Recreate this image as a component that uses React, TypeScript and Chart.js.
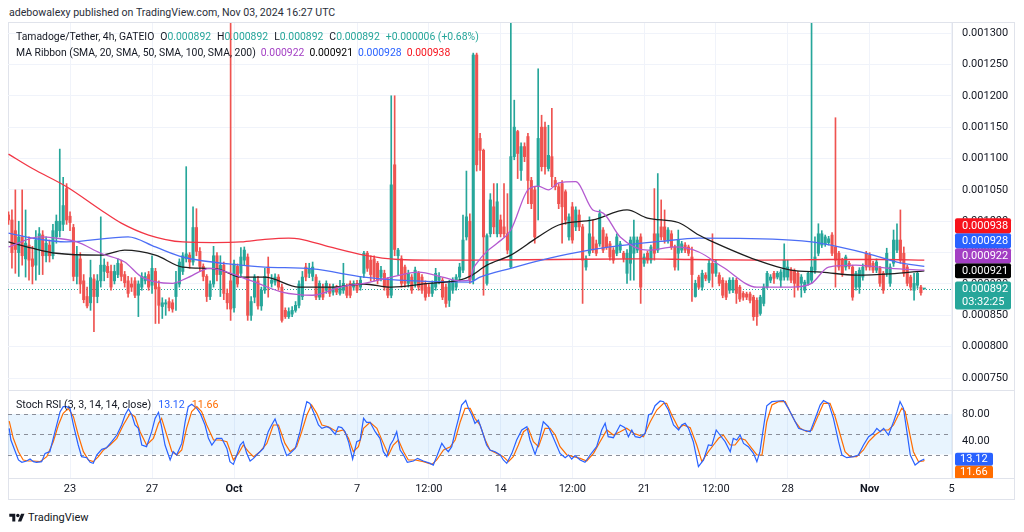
import React, { useEffect, useRef } from "react";
import { Chart, registerables } from "chart.js";

Chart.register(...registerables);

// Tamadoge/Tether, GATEIO, 4h bars from 20 Sep 2024 00:00 UTC.
// Prices are in millionths of USDT (892 = 0.000892).
const opens = [
  1010, 1002, 985, 950, 975, 940, 962, 940, 930, 955,
  978, 945, 962, 945, 975, 985, 995, 1052, 1008, 990,
  912, 940, 905, 880, 870, 908, 880, 905, 920, 928,
  920, 905, 915, 932, 915, 905, 900, 905, 882, 895,
  905, 915, 898, 920, 895, 864, 868, 872, 870, 880,
  900, 920, 940, 946, 935, 990, 952, 928, 912, 880,
  900, 945, 915, 930, 885, 905, 862, 928, 917, 938,
  943, 850, 879, 905, 865, 890, 927, 901, 903, 911,
  895, 858, 848, 852, 858, 866, 880, 927, 917, 912,
  911, 879, 895, 890, 895, 887, 895, 885, 890, 895,
  901, 895, 901, 895, 917, 949, 938, 940, 933, 911,
  917, 906, 882, 1090, 945, 940, 927, 901, 911, 901,
  917, 911, 901, 895, 885, 895, 906, 906, 895, 874,
  890, 895, 911, 922, 975, 1000, 906, 1265, 1132, 1113,
  901, 980, 1023, 980, 1002, 991, 980, 927, 1103, 1143,
  1081, 1119, 1135, 1065, 1050, 1055, 1150, 1150, 1084, 1103,
  1065, 1055, 1060, 1047, 975, 1023, 991, 1010, 991, 927,
  949, 975, 964, 964, 986, 975, 964, 954, 949, 954,
  949, 917, 933, 949, 954, 975, 933, 949, 938, 980,
  954, 991, 991, 970, 980, 959, 949, 954, 962, 959,
  943, 880, 911, 895, 914, 906, 933, 917, 914, 906,
  901, 890, 890, 906, 895, 885, 884, 884, 879, 874,
  853, 869, 895, 906, 917, 911, 906, 911, 911, 922,
  920, 917, 901, 890, 901, 906, 922, 949, 962, 964,
  966, 978, 959, 949, 938, 927, 933, 927, 895, 895,
  911, 949, 946, 933, 922, 925, 917, 917, 901, 933,
  954, 970, 949, 927, 911, 890, 898, 895, 892,
];
const highs = [
  1015, 1018, 1050, 1000, 1050, 1018, 975, 960, 985, 990,
  985, 975, 970, 995, 1010, 1115, 1070, 1060, 1015, 995,
  960, 950, 915, 895, 938, 915, 915, 1007, 940, 935,
  930, 930, 940, 938, 920, 912, 910, 910, 905, 918,
  918, 920, 945, 925, 905, 878, 875, 878, 875, 920,
  940, 950, 1087, 950, 1023, 1020, 958, 932, 915, 905,
  960, 950, 945, 935, 892, 1330, 938, 932, 958, 959,
  948, 880, 915, 912, 895, 925, 943, 915, 916, 915,
  900, 862, 862, 864, 872, 905, 920, 933, 933, 935,
  915, 905, 900, 905, 900, 900, 898, 906, 933, 900,
  905, 905, 906, 912, 952, 952, 945, 945, 936, 928,
  922, 910, 1200, 1200, 957, 945, 930, 922, 915, 927,
  920, 915, 905, 900, 905, 925, 918, 910, 900, 906,
  910, 915, 933, 1010, 1080, 1012, 1268, 1268, 1140, 1115,
  980, 1044, 1060, 1060, 1010, 1060, 1044, 1340, 1193, 1145,
  1125, 1125, 1140, 1070, 1055, 1243, 1169, 1158, 1153, 1180,
  1070, 1060, 1065, 1050, 1012, 1030, 1023, 1018, 995, 945,
  1007, 1002, 970, 1018, 990, 980, 968, 958, 980, 968,
  952, 955, 975, 1002, 975, 980, 948, 952, 962, 1052,
  1076, 1034, 1018, 990, 985, 962, 986, 968, 966, 962,
  959, 906, 914, 922, 918, 938, 980, 938, 918, 910,
  905, 910, 910, 909, 898, 888, 887, 887, 882, 878,
  882, 900, 920, 915, 920, 920, 923, 964, 938, 926,
  924, 920, 915, 906, 920, 1340, 975, 996, 985, 978,
  976, 982, 1165, 952, 941, 946, 936, 930, 920, 926,
  932, 952, 950, 936, 940, 928, 920, 957, 932, 986,
  996, 1018, 959, 930, 914, 917, 920, 898, 892,
];
const lows = [
  995, 925, 917, 912, 930, 911, 906, 900, 906, 915,
  915, 935, 935, 940, 965, 975, 985, 995, 985, 905,
  900, 885, 870, 862, 858, 824, 870, 895, 905, 910,
  890, 900, 910, 905, 895, 879, 888, 878, 848, 890,
  900, 890, 885, 837, 837, 845, 850, 857, 855, 858,
  895, 915, 935, 925, 930, 945, 920, 905, 872, 875,
  895, 905, 880, 875, 860, 842, 855, 895, 911, 930,
  842, 842, 870, 860, 858, 885, 879, 895, 898, 890,
  839, 845, 845, 848, 855, 862, 875, 905, 910, 905,
  875, 875, 875, 885, 880, 882, 883, 882, 885, 878,
  878, 890, 886, 890, 910, 920, 905, 905, 900, 905,
  890, 878, 878, 945, 915, 895, 895, 895, 885, 895,
  890, 885, 874, 880, 880, 890, 900, 875, 863, 864,
  885, 890, 905, 918, 970, 901, 900, 1080, 1081, 882,
  898, 975, 980, 975, 975, 975, 948, 925, 1098, 1068,
  1065, 1095, 1028, 1020, 965, 1002, 1080, 1075, 1080, 1055,
  1050, 1020, 965, 995, 970, 965, 985, 985, 869, 922,
  945, 950, 945, 960, 950, 955, 938, 933, 945, 950,
  935, 901, 906, 906, 950, 869, 928, 933, 933, 938,
  950, 970, 965, 965, 955, 922, 922, 950, 950, 945,
  872, 879, 892, 890, 905, 902, 895, 912, 897, 878,
  875, 885, 886, 869, 872, 874, 875, 870, 842, 834,
  850, 865, 893, 902, 901, 908, 895, 906, 906, 902,
  879, 890, 879, 886, 898, 901, 917, 945, 958, 960,
  962, 945, 895, 922, 912, 922, 924, 874, 890, 885,
  906, 922, 922, 918, 918, 896, 885, 912, 896, 928,
  950, 933, 912, 897, 890, 874, 893, 882, 892,
];
const closes = [
  1002, 950, 955, 975, 945, 965, 938, 928, 970, 980,
  945, 965, 945, 985, 1000, 1000, 1025, 1002, 998, 912,
  945, 900, 875, 865, 910, 880, 905, 930, 930, 918,
  895, 920, 933, 912, 902, 885, 895, 882, 900, 912,
  912, 895, 925, 892, 866, 870, 870, 862, 860, 902,
  935, 945, 948, 935, 990, 952, 928, 912, 880, 900,
  945, 915, 930, 885, 870, 860, 932, 900, 943, 954,
  850, 872, 911, 865, 890, 912, 917, 906, 911, 895,
  842, 848, 856, 858, 866, 900, 911, 911, 924, 927,
  879, 901, 879, 901, 885, 895, 887, 895, 901, 882,
  882, 901, 890, 906, 949, 925, 915, 911, 906, 922,
  895, 882, 1058, 955, 954, 901, 901, 917, 890, 922,
  895, 890, 879, 885, 901, 917, 911, 879, 869, 901,
  906, 911, 927, 970, 1007, 906, 1265, 1090, 1113, 975,
  977, 1034, 991, 1031, 980, 980, 954, 1103, 1150, 1108,
  1119, 1103, 1065, 1028, 975, 1132, 1087, 1087, 1105, 1071,
  1055, 1028, 1023, 1002, 1007, 970, 1018, 991, 938, 940,
  980, 954, 949, 1012, 954, 959, 943, 938, 975, 964,
  941, 949, 970, 975, 970, 895, 943, 938, 959, 949,
  980, 975, 970, 986, 959, 927, 970, 964, 954, 949,
  915, 901, 895, 917, 909, 933, 917, 933, 901, 882,
  879, 906, 906, 885, 876, 879, 879, 874, 848, 848,
  879, 895, 917, 911, 909, 917, 919, 938, 927, 906,
  901, 895, 911, 903, 917, 927, 943, 980, 980, 975,
  972, 949, 938, 927, 917, 943, 928, 879, 917, 922,
  927, 927, 927, 922, 935, 901, 890, 949, 927, 970,
  970, 938, 917, 901, 895, 901, 917, 886, 892,
];

// MA Ribbon (SMA 20 / 50 / 100 / 200), read at these bar numbers
const sma20Bars = [0, 9, 14, 20, 27, 34, 39, 48, 52, 59, 68, 73, 80, 89, 97, 104, 112, 120, 127, 132, 135, 136, 137, 140, 143, 147, 152, 155, 158, 161, 166, 171, 174, 179, 187, 195, 202, 209, 219, 229, 235, 240, 248, 258, 268];
const sma20 = [959, 975, 973, 967, 949, 935, 911, 901, 909, 925, 911, 901, 887, 882, 895, 901, 911, 919, 911, 905, 906, 924, 933, 952, 965, 986, 1050, 1056, 1050, 1061, 1063, 1018, 1013, 975, 954, 959, 951, 927, 895, 895, 901, 927, 930, 925, 922];
const sma50Bars = [0, 7, 14, 27, 34, 43, 51, 61, 68, 75, 85, 94, 104, 112, 123, 132, 135, 140, 147, 155, 161, 171, 181, 187, 196, 202, 205, 219, 229, 238, 248, 258, 268];
const sma50 = [967, 957, 949, 946, 954, 946, 927, 924, 911, 911, 895, 895, 900, 895, 901, 906, 912, 930, 946, 975, 994, 1002, 1018, 1005, 998, 978, 970, 938, 922, 919, 914, 916, 921];
const sma100Bars = [0, 7, 17, 35, 43, 51, 68, 75, 89, 104, 114, 135, 138, 147, 156, 166, 176, 191, 202, 229, 235, 243, 253, 260, 268];
const sma100 = [981, 973, 967, 975, 959, 943, 930, 927, 924, 911, 906, 903, 911, 925, 938, 950, 959, 968, 973, 970, 967, 959, 946, 935, 928];
const sma200Bars = [0, 7, 17, 27, 33, 41, 51, 60, 68, 75, 82, 85, 94, 104, 114, 124, 135, 160, 185, 200, 220, 240, 255, 268];
const sma200 = [1107, 1084, 1055, 1018, 997, 978, 967, 966, 967, 971, 973, 972, 959, 946, 939, 938, 938, 939, 940, 939, 938, 939, 939, 938];
const maLast = [922, 921, 928, 938];
const maNames = ["SMA, 20", "SMA, 50", "SMA, 100", "SMA, 200"];

// Stoch RSI (3, 3, 14, 14, close)
const stochKBars = [0.2, 0.7, 2.9, 3.9, 5.3, 6.3, 7.3, 8.2, 9.7, 10.7, 12.1, 13.6, 15.1, 16, 17, 18, 19, 20.4, 21.4, 22.9, 23.9, 24.8, 25.8, 27.3, 28.7, 30.2, 31.7, 33.1, 34.1, 35.1, 36.1, 37, 38, 39, 40.4, 41.9, 42.9, 43.9, 44.8, 45.8, 47.3, 48.2, 49.2, 50.7, 51.7, 52.6, 53.6, 55.1, 56.1, 57.5, 58.5, 59.5, 60.9, 62.4, 63.9, 64.8, 65.8, 66.8, 67.8, 68.7, 69.7, 70.7, 71.7, 72.6, 74.6, 76, 77, 78, 79, 79.9, 81.4, 82.4, 83.9, 85.3, 86.3, 87.3, 88.2, 89.2, 90.7, 91.7, 93.1, 94.1, 95.6, 96.5, 97.5, 98.5, 99.5, 100.7, 101.9, 102.9, 103.9, 104.8, 105.8, 107.3, 108.7, 109.7, 110.7, 111.7, 112.6, 113.6, 114.6, 115.6, 116.7, 118.5, 119.7, 121.4, 123.4, 124.3, 125.3, 126.8, 127.8, 128.7, 129.7, 130.7, 131.7, 132.6, 133.8, 134.6, 135.6, 136.5, 137.5, 138.5, 139.9, 140.9, 142.4, 143.9, 144.8, 145.8, 147.3, 148.7, 150.2, 151.7, 152.6, 154.1, 155.1, 156.5, 158, 159.5, 161.4, 162.9, 163.9, 164.8, 165.8, 167.3, 168.7, 170.2, 172.1, 173.6, 174.6, 175.5, 177, 179, 180.4, 181.4, 182.4, 183.4, 184.8, 186.3, 187.3, 188.3, 189.2, 190.7, 191.7, 193.1, 194.6, 196.1, 197, 198, 199, 200.4, 201.9, 203.4, 204.8, 205.8, 207.1, 208.2, 209.7, 211.2, 212.1, 213.1, 214.1, 215.1, 216.5, 218, 219, 219.9, 220.9, 221.9, 223.4, 225.3, 226.8, 228.2, 229.7, 231.2, 232.6, 234.6, 236.1, 237.5, 238.5, 240, 241.4, 242.9, 243.9, 245.3, 247.3, 248.7, 250.2, 251.7, 253.1, 254.1, 255.1, 256.1, 257.5, 259, 260, 260.9, 261.9, 262.9, 263.9, 265.3, 266.8, 268];
const stochK = [58.8, 41.5, 11.9, 8.4, 10.4, 13.3, 9.4, 8.4, 9.4, 21.7, 24.2, 53.8, 83.5, 90.9, 90.9, 88.4, 63.7, 34.1, 16.8, 15.3, 8.4, 6.9, 19.3, 27.7, 30.1, 39, 48.9, 63.7, 78.5, 87.4, 78.5, 63.7, 58.8, 34.1, 31.6, 53.8, 73.6, 82.5, 61.2, 34.1, 11.9, 24.2, 19.3, 36.5, 68.6, 90.9, 94.3, 88.4, 81, 63.7, 44, 34.1, 44, 44, 29.1, 9.4, 5.4, 19.3, 34.1, 39, 21.7, 10.4, 14.3, 19.3, 29.1, 53.8, 63.7, 72.6, 58.8, 39, 18.3, 21.7, 29.1, 53.8, 78.5, 98.3, 95.8, 83.5, 63.7, 58.8, 61.2, 58.8, 49.9, 61.2, 59.8, 53.8, 39, 13.3, 39, 41.5, 73.6, 67.7, 67.7, 53.8, 44, 24.2, 16.8, 34.1, 41.5, 53.8, 26.7, 19.3, 8.4, 10.4, 14.3, 10.4, 6.9, 4.4, 16.8, 36.5, 29.1, 24.2, 31.6, 53.8, 73.6, 93.3, 100, 88.4, 78.5, 66.2, 71.1, 56.3, 34.1, 26.7, 24.2, 19.3, 11.9, 6.9, 21.7, 41.5, 56.3, 61.2, 41.5, 20.2, 36.5, 68.6, 61.2, 44, 21.7, 15.3, 19.3, 13.3, 18.3, 11.9, 8.4, 19.3, 31.6, 56.3, 66.2, 46.4, 44.9, 63.7, 59.8, 46.4, 56.3, 46.4, 44.9, 51.4, 78.5, 81, 92.3, 99.3, 98.3, 85.9, 63.7, 56.3, 63.7, 66.2, 58.8, 39, 2, 11.9, 34.1, 33.1, 56.3, 48.9, 39, 24.2, 44, 41.5, 48.9, 36.5, 31.6, 21.7, 9.4, 24.2, 58.8, 92.3, 98.3, 99.3, 100, 88.4, 73.6, 58.8, 56.3, 53.8, 73.6, 93.3, 100, 95.8, 73.6, 39, 19.3, 15.3, 16.8, 19.3, 34.1, 46.4, 51.4, 58.8, 53.8, 58.8, 48.9, 68.6, 83.5, 98.3, 88.4, 53.8, 19.3, 4.4, 10.4, 13.12];
const stochDBars = [0.2, 1.4, 2.9, 4.3, 5.8, 7.3, 9.2, 11.2, 13.1, 14.6, 16, 17.5, 19, 20.4, 21.9, 23.4, 24.8, 26.3, 27.8, 29.7, 31.7, 33.6, 35.6, 37, 38.5, 40.4, 42.4, 43.9, 44.8, 46.3, 47.8, 49.2, 50.7, 52.1, 53.6, 55.1, 56.5, 58, 60, 61.9, 63.9, 65.8, 67.3, 68.7, 70.2, 71.7, 73.6, 75.6, 77.5, 79, 80.9, 82.4, 84.3, 85.8, 87.3, 88.7, 90.2, 91.7, 93.6, 96.1, 98, 99.5, 100.9, 102.4, 103.9, 105.8, 107.8, 109.7, 111.2, 112.6, 114.1, 115.6, 117, 119, 121.4, 123.9, 125.3, 127.3, 129.3, 130.7, 132.2, 133.6, 135.1, 136.5, 138, 139.5, 140.9, 142.9, 144.8, 146.3, 147.7, 149.2, 150.7, 152.1, 153.6, 155.1, 157, 158.5, 160, 161.4, 163.4, 165.3, 167.3, 169.2, 171.2, 173.1, 175.1, 177, 179, 180.9, 182.9, 185.8, 187.8, 189.7, 191.7, 192.6, 194.1, 196.1, 197.5, 199.5, 201.4, 202.9, 204.8, 206.3, 207.8, 209.2, 211.2, 212.6, 214.1, 215.6, 217.5, 219, 220.5, 221.9, 223.4, 225.3, 227.3, 228.7, 230.2, 231.7, 233.6, 235.1, 237, 238.5, 240.4, 241.9, 243.4, 244.8, 246.3, 248.2, 250.2, 251.7, 253.6, 255.6, 257.5, 259, 260.4, 261.4, 262.4, 263.4, 264.8, 266.3, 267.8, 268];
const stochD = [69.6, 44, 24.2, 11.9, 10.4, 10.4, 9.4, 16.8, 39, 63.7, 81, 88.4, 76, 48.9, 24.2, 11.9, 9.4, 16.8, 26.7, 34.1, 44, 63.7, 81, 76, 53.8, 34.1, 44, 66.2, 73.6, 48.9, 24.2, 19.3, 26.7, 58.8, 83.5, 90.9, 83.5, 63.7, 41.5, 41.5, 39, 11.9, 21.7, 34.1, 24.2, 16.8, 24.2, 36.5, 63.7, 63.7, 36.5, 24.2, 31.6, 53.8, 78.5, 93.3, 81, 63.7, 61.2, 53.8, 56.3, 44, 24.2, 31.6, 58.8, 67.7, 58.8, 36.5, 19.3, 34.1, 41.5, 24.2, 11.9, 11.9, 9.4, 5.4, 11.9, 26.7, 31.6, 41.5, 68.6, 88.4, 88.4, 73.6, 63.7, 41.5, 26.7, 21.7, 16.8, 9.4, 16.8, 34.1, 53.8, 58.8, 39, 31.6, 58.8, 58.8, 48.9, 31.6, 19.3, 16.8, 14.3, 10.4, 21.7, 39, 56.3, 48.9, 53.8, 58.8, 51.4, 46.4, 68.6, 85.9, 95.8, 95.8, 78.5, 58.8, 63.7, 59.8, 34.1, 9.4, 24.2, 34.1, 44, 48.9, 34.1, 34.1, 44, 41.5, 29.1, 19.3, 19.3, 68.6, 93.3, 98.3, 98.3, 83.5, 68.6, 58.8, 53.8, 56.3, 78.5, 95.8, 95.8, 76, 48.9, 24.2, 16.8, 16.8, 26.7, 39, 48.9, 56.3, 56.3, 63.7, 78.5, 88.4, 83.5, 58.8, 24.2, 9.4, 10.4, 11.66];
const stochBands = [80, 50, 20];
const stochTicks = [80, 40];

const priceTicks = [750, 800, 850, 900, 950, 1000, 1050, 1100, 1150, 1200, 1250, 1300];
const timeTickBars = [18, 42, 66, 102, 123, 144, 165, 186, 207, 228, 252, 276];
const timeTickLabels = ["23", "27", "Oct", "7", "12:00", "14", "12:00", "21", "12:00", "28", "Nov", "5"];
const countdown = "03:32:25";

const FONT = "Roboto, 'Liberation Sans', Arial, sans-serif";
const TEXT = "#131722";
const GRID = "#f0f3fa";
const UP = "#26a69a";
const DOWN = "#ef5350";
const MA_LINE = ["#b45ad0", "#1e1e1e", "#4c6ef5", "#f23645"];
const MA_TAG = ["#a33fc4", "#000000", "#2962ff", "#f7121c"];
const K_COLOR = "#2962ff";
const D_COLOR = "#ff6d00";

const X_MIN = -0.15;
const X_MAX = 276.1;

const fmtPrice = (v: number) => (v / 1e6).toFixed(6);
const pts = (xs: number[], ys: number[]) => xs.map((x, k) => ({ x, y: ys[k] }));

function tag(ctx: CanvasRenderingContext2D, x: number, y: number, w: number, h: number, color: string) {
  ctx.fillStyle = color;
  ctx.beginPath();
  if ((ctx as any).roundRect) (ctx as any).roundRect(x, y, w, h, 2);
  else ctx.rect(x, y, w, h);
  ctx.fill();
}

function timeScale(): any {
  return {
    type: "linear",
    min: X_MIN,
    max: X_MAX,
    offset: false,
    afterBuildTicks: (s: any) => {
      s.ticks = timeTickBars.map((value) => ({ value }));
    },
    afterFit: (s: any) => {
      s.height = 0;
    },
    ticks: { display: false },
    grid: { color: GRID, offset: false, drawTicks: false },
    border: { display: false },
  };
}

const mainOverlay = {
  id: "mainOverlay",
  beforeDatasetsDraw(chart: any) {
    const { ctx, chartArea: a, scales } = chart;
    const y = Math.round(scales.y.getPixelForValue(closes[closes.length - 1])) + 0.5;
    ctx.save();
    ctx.strokeStyle = UP;
    ctx.lineWidth = 1;
    ctx.setLineDash([1, 2]);
    ctx.beginPath();
    ctx.moveTo(a.left, y);
    ctx.lineTo(a.right, y);
    ctx.stroke();
    ctx.restore();
  },
  afterDraw(chart: any) {
    const { ctx, chartArea: a, scales } = chart;
    const ys = scales.y;
    ctx.save();
    ctx.strokeStyle = "#e0e3eb";
    ctx.lineWidth = 1;
    ctx.beginPath();
    ctx.moveTo(a.right + 0.5, a.top);
    ctx.lineTo(a.right + 0.5, a.bottom);
    ctx.stroke();

    ctx.font = `11px ${FONT}`;
    ctx.textBaseline = "middle";
    ctx.textAlign = "left";
    ctx.fillStyle = TEXT;
    priceTicks.forEach((v) => ctx.fillText(fmtPrice(v), a.right + 10, ys.getPixelForValue(v)));

    const last = closes[closes.length - 1];
    const left = a.right + 3;
    const w = 56;
    const h = 15;
    const py = ys.getPixelForValue(last);
    tag(ctx, left, py - 7.5, w, 28, UP);
    ctx.fillStyle = "#ffffff";
    ctx.fillText(fmtPrice(last), a.right + 10, py);
    ctx.fillText(countdown, a.right + 10, py + 13.5);

    let limit = py - 7.5;
    const order = maLast.map((_, k) => k).sort((p, q) => maLast[p] - maLast[q]);
    order.forEach((k) => {
      const cy = Math.min(ys.getPixelForValue(maLast[k]), limit - h / 2);
      tag(ctx, left, cy - h / 2, w, h, MA_TAG[k]);
      ctx.fillStyle = "#ffffff";
      ctx.fillText(fmtPrice(maLast[k]), a.right + 10, cy);
      limit = cy - h / 2;
    });
    ctx.restore();
  },
};

const stochOverlay = {
  id: "stochOverlay",
  beforeDatasetsDraw(chart: any) {
    const { ctx, chartArea: a, scales } = chart;
    const ys = scales.y;
    const top = ys.getPixelForValue(stochBands[0]);
    const bottom = ys.getPixelForValue(stochBands[2]);
    ctx.save();
    ctx.fillStyle = "rgba(33, 150, 243, 0.1)";
    ctx.fillRect(a.left, top, a.right - a.left, bottom - top);
    ctx.strokeStyle = "#8a8e99";
    ctx.lineWidth = 1;
    ctx.setLineDash([4, 4]);
    stochBands.forEach((v) => {
      const y = Math.round(ys.getPixelForValue(v)) + 0.5;
      ctx.beginPath();
      ctx.moveTo(a.left, y);
      ctx.lineTo(a.right, y);
      ctx.stroke();
    });
    ctx.restore();
  },
  afterDraw(chart: any) {
    const { ctx, chartArea: a, scales } = chart;
    const ys = scales.y;
    const xs = scales.x;
    ctx.save();
    ctx.strokeStyle = "#e0e3eb";
    ctx.lineWidth = 1;
    ctx.beginPath();
    ctx.moveTo(a.right + 0.5, a.top);
    ctx.lineTo(a.right + 0.5, a.bottom);
    ctx.moveTo(a.left, a.bottom + 0.5);
    ctx.lineTo(a.right + 63, a.bottom + 0.5);
    ctx.stroke();

    ctx.textBaseline = "middle";
    ctx.font = `11px ${FONT}`;
    ctx.fillStyle = TEXT;
    ctx.textAlign = "left";
    stochTicks.forEach((v) => ctx.fillText(v.toFixed(2), a.right + 10, ys.getPixelForValue(v)));

    ctx.textAlign = "center";
    timeTickBars.forEach((b, k) => {
      const label = timeTickLabels[k];
      ctx.font = `${/^[A-Za-z]/.test(label) ? "bold " : ""}11px ${FONT}`;
      ctx.fillText(label, xs.getPixelForValue(b), a.bottom + 11);
    });

    ctx.beginPath();
    ctx.rect(a.right + 1, a.top, 70, a.bottom - a.top);
    ctx.clip();
    ctx.font = `11px ${FONT}`;
    ctx.textAlign = "left";
    const h = 13;
    const kv = stochK[stochK.length - 1];
    const dv = stochD[stochD.length - 1];
    const ky = ys.getPixelForValue(kv);
    const dy = Math.max(ys.getPixelForValue(dv), ky + h);
    tag(ctx, a.right + 3, ky - h / 2, 38, h, K_COLOR);
    tag(ctx, a.right + 3, dy - h / 2, 38, h, D_COLOR);
    ctx.fillStyle = "#ffffff";
    ctx.fillText(kv.toFixed(2), a.right + 8, ky);
    ctx.fillText(dv.toFixed(2), a.right + 8, dy);
    ctx.restore();
  },
};

export default function App() {
  const mainRef = useRef<HTMLCanvasElement | null>(null);
  const stochRef = useRef<HTMLCanvasElement | null>(null);

  useEffect(() => {
    if (!mainRef.current || !stochRef.current) return;
    const bars = closes.map((_, i) => i);
    const candleColors = closes.map((c, i) => (c >= opens[i] ? UP : DOWN));
    const maSeries = [pts(sma20Bars, sma20), pts(sma50Bars, sma50), pts(sma100Bars, sma100), pts(sma200Bars, sma200)];

    const main = new Chart(mainRef.current, {
      type: "bar",
      data: {
        datasets: [
          ...maSeries.map((data, k) => ({
            type: "line" as const,
            label: maNames[k],
            data,
            borderColor: MA_LINE[k],
            borderWidth: 1.3,
            pointRadius: 0,
            cubicInterpolationMode: "monotone" as const,
            order: 0,
          })),
          {
            type: "bar" as const,
            label: "body",
            data: bars.map((i) => ({ x: i, y: [opens[i], closes[i]] })),
            backgroundColor: candleColors,
            barThickness: 2.4,
            minBarLength: 1,
            grouped: false,
            order: 2,
          },
          {
            type: "bar" as const,
            label: "wick",
            data: bars.map((i) => ({ x: i, y: [lows[i], highs[i]] })),
            backgroundColor: candleColors,
            barThickness: 1,
            grouped: false,
            order: 3,
          },
        ] as any,
      },
      options: {
        animation: false,
        responsive: true,
        maintainAspectRatio: false,
        events: [],
        layout: { padding: 0 },
        plugins: { legend: { display: false }, tooltip: { enabled: false } },
        scales: {
          x: timeScale(),
          y: {
            position: "right",
            min: 731,
            max: 1316,
            afterBuildTicks: (s: any) => {
              s.ticks = priceTicks.map((value) => ({ value }));
            },
            afterFit: (s: any) => {
              s.width = 63;
            },
            ticks: { display: false },
            grid: { color: GRID, drawTicks: false },
            border: { display: false },
          },
        } as any,
      },
      plugins: [mainOverlay],
    });

    const stoch = new Chart(stochRef.current, {
      type: "line",
      data: {
        datasets: [
          { label: "K", data: pts(stochKBars, stochK), borderColor: K_COLOR, borderWidth: 1.2, pointRadius: 0, order: 0 },
          { label: "D", data: pts(stochDBars, stochD), borderColor: D_COLOR, borderWidth: 1.2, pointRadius: 0, order: 1 },
        ],
      },
      options: {
        animation: false,
        responsive: true,
        maintainAspectRatio: false,
        events: [],
        layout: { padding: { bottom: 22 } },
        plugins: { legend: { display: false }, tooltip: { enabled: false } },
        scales: {
          x: timeScale(),
          y: {
            position: "right",
            min: -14.8,
            max: 114.1,
            afterFit: (s: any) => {
              s.width = 63;
            },
            ticks: { display: false },
            grid: { display: false },
            border: { display: false },
          },
        } as any,
      },
      plugins: [stochOverlay],
    });

    return () => {
      main.destroy();
      stoch.destroy();
    };
  }, []);

  const n = closes.length;
  const change = closes[n - 1] - closes[n - 2];
  const pct = ((change / closes[n - 2]) * 100).toFixed(2);
  const teal = { color: UP };
  const gap = { marginLeft: 6 };

  return (
    <div style={{ position: "fixed", inset: 0, background: "#ffffff", fontFamily: FONT, color: TEXT, overflow: "hidden" }}>
      <div style={{ position: "absolute", left: 9, top: 6, fontSize: 10.6, lineHeight: "14px", whiteSpace: "nowrap", color: "#2a2e39" }}>
        adebowalexy published on TradingView.com, Nov 03, 2024 16:27 UTC
      </div>
      <div style={{ position: "absolute", left: 8, top: 22, width: 1007, height: 478, boxSizing: "border-box", border: "1px solid #e0e3eb" }} />
      <div style={{ position: "absolute", left: 8, top: 23, width: 1007, height: 367 }}>
        <canvas ref={mainRef} role="img" aria-label="Tamadoge/Tether 4h candlestick chart" />
      </div>
      <div style={{ position: "absolute", left: 8, top: 390, width: 1007, height: 1, background: "#e0e3eb" }} />
      <div style={{ position: "absolute", left: 8, top: 391, width: 1007, height: 109 }}>
        <canvas ref={stochRef} role="img" aria-label="Stoch RSI" />
      </div>

      <div style={{ position: "absolute", left: 16, top: 30, fontSize: 10.4, lineHeight: "14px", whiteSpace: "nowrap" }}>
        <span>Tamadoge/Tether, 4h, GATEIO</span>
        <span style={gap}>O<span style={teal}>{fmtPrice(opens[n - 1])}</span></span>
        <span style={gap}>H<span style={teal}>{fmtPrice(highs[n - 1])}</span></span>
        <span style={gap}>L<span style={teal}>{fmtPrice(lows[n - 1])}</span></span>
        <span style={gap}>C<span style={teal}>{fmtPrice(closes[n - 1])}</span></span>
        <span style={{ ...gap, ...teal }}>{`${change >= 0 ? "+" : ""}${fmtPrice(change)} (${change >= 0 ? "+" : ""}${pct}%)`}</span>
      </div>
      <div style={{ position: "absolute", left: 16, top: 46, fontSize: 10.4, lineHeight: "14px", whiteSpace: "nowrap" }}>
        <span>MA Ribbon ({maNames.join(", ")})</span>
        {maLast.map((v, k) => (
          <span key={k} style={{ marginLeft: 5, color: MA_TAG[k] }}>
            {fmtPrice(v)}
          </span>
        ))}
      </div>
      <div style={{ position: "absolute", left: 16, top: 398, fontSize: 10.6, lineHeight: "14px", whiteSpace: "nowrap" }}>
        <span>Stoch RSI (3, 3, 14, 14, close)</span>
        <span style={{ marginLeft: 7, color: K_COLOR }}>{stochK[stochK.length - 1].toFixed(2)}</span>
        <span style={{ marginLeft: 7, color: D_COLOR }}>{stochD[stochD.length - 1].toFixed(2)}</span>
      </div>

      <div style={{ position: "absolute", left: 9, top: 511, display: "flex", alignItems: "center", whiteSpace: "nowrap" }}>
        <svg width="16" height="12" viewBox="0 0 36 28" aria-hidden="true">
          <path d="M14 22H7V11H0V4h14v18zM28 22h-8l7.5-18h8L28 22z" fill={TEXT} />
          <circle cx="20" cy="8" r="4" fill={TEXT} />
        </svg>
        <span style={{ marginLeft: 3, fontSize: 11 }}>TradingView</span>
      </div>
    </div>
  );
}
